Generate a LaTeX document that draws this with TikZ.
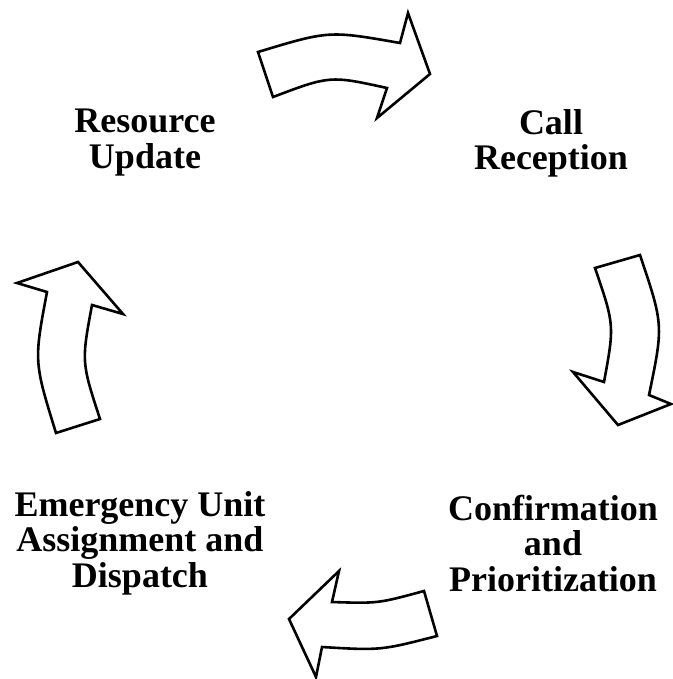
\documentclass[tikz,border=0pt]{standalone}
\usepackage{fontspec}
\setmainfont{Liberation Serif}
\begin{document}
\begin{tikzpicture}[x=1pt,y=-1pt,
  lbl/.style={align=center,inner sep=0pt,font=\fontsize{36}{35.5}\selectfont\bfseries},
  blockarrow/.style={draw=black,fill=white,line width=2.6pt,line join=miter}]
\useasboundingbox (0,0) rectangle (672,679);
% labels
\node[lbl] (res) at (145,142.5) {Resource\\Update};
\node[lbl] (call) at (551,143.5) {Call\\Reception};
\node[lbl] (conf) at (553,543) {Confirmation\\and\\Prioritization};
\node[lbl] (emer) at (140,543) {Emergency Unit\\Assignment and\\Dispatch};
% block arrows
\draw[blockarrow] (258,52) .. controls (329,30.5) .. (400,43) -- (408,13) -- (430,74) -- (377,118) -- (387,88) .. controls (330,75.5) .. (273,97) -- cycle;
\draw[blockarrow] (595,268) -- (640,255) .. controls (663.5,325) .. (649,395) -- (671,404) -- (618,425) -- (573,372) -- (604,382) .. controls (614.5,325) .. (595,268) -- cycle;
\draw[blockarrow] (424,591) .. controls (378,603.5) .. (332,602) -- (339,571) -- (289,619) -- (316,677) -- (322,647) .. controls (380.5,650.5) .. (437,636) -- cycle;
\draw[blockarrow] (56,433) .. controls (33.9,361.5) .. (47,292) -- (17,283) -- (78,262) -- (123,314) -- (92,305) .. controls (81.4,362) .. (100,419) -- cycle;
\end{tikzpicture}
\end{document}
